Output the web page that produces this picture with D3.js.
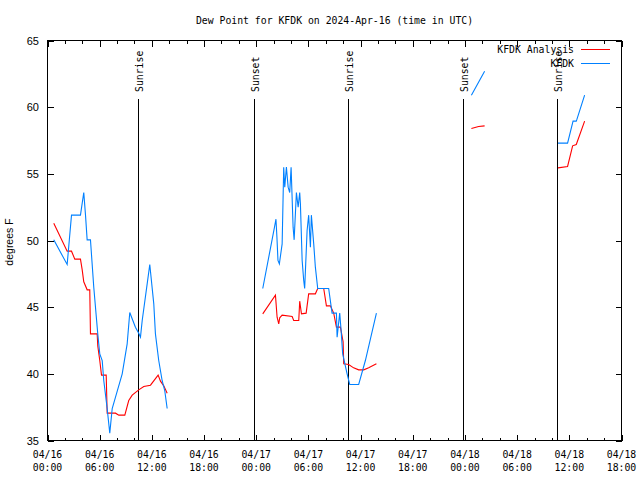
<!DOCTYPE html>
<html><head><meta charset="utf-8">
<script src="https://cdn.jsdelivr.net/npm/d3@7"></script>
<style>body{margin:0;background:#fff;}</style>
</head><body>
<svg id="chart" width="640" height="480"></svg>
<script>
// ---------- data ----------
const chartTitle = "Dew Point for KFDK on 2024-Apr-16 (time in UTC)";
const yAxisLabel = "degrees F";
const seriesNames = ["KFDK Analysis", "KFDK"];
// hours since 2024-04-16 00:00 UTC
const xDomainHours = [0, 66];
const yDomain = [35, 65];
const yTickValues = [35, 40, 45, 50, 55, 60, 65];
const xMajorTickHours = [0, 6, 12, 18, 24, 30, 36, 42, 48, 54, 60, 66];
const xTickDates = ["04/16","04/16","04/16","04/16","04/17","04/17","04/17","04/17","04/18","04/18","04/18","04/18"];
const xTickTimes = ["00:00","06:00","12:00","18:00","00:00","06:00","12:00","18:00","00:00","06:00","12:00","18:00"];
const sunHours = [10.46, 23.69, 34.5, 47.73, 58.55];
const sunLabels = ["Sunrise", "Sunset", "Sunrise", "Sunset", "Sunrise"];

// KFDK Analysis (red); null = gap
const analysisHours = [
  0.72,2.26,2.76,3.14,3.79,3.99,4.17,4.56,4.86,4.94,5.71,5.78,6.01,6.21,6.75,6.86,7.82,8.2,8.89,9.34,9.74,10.49,11.07,11.84,12.72,12.99,13.37,13.76,
  null,
  24.75,26.21,26.4,26.59,26.7,26.98,28.13,28.31,28.89,29.0,29.2,29.74,30.03,30.8,31.07,31.76,32.07,32.53,32.91,33.22,33.68,33.99,34.06,34.63,35.2,35.78,36.36,36.93,37.82,
  null,
  48.74,49.57,50.26,
  null,
  58.7,59.8,60.38,60.8,61.76
];
const analysisValues = [
  51.3,49.2,49.2,48.6,48.6,47.8,46.9,46.3,46.3,43.0,43.0,42.1,41.0,39.9,39.9,37.05,37.05,36.9,36.9,38.0,38.4,38.8,39.05,39.15,39.9,39.45,39.1,38.55,
  null,
  44.5,45.9,44.25,43.75,44.2,44.4,44.3,44.0,44.0,45.45,44.5,44.55,46.0,46.0,46.4,46.4,45.1,45.1,44.55,43.5,43.5,42.4,40.75,40.7,40.45,40.3,40.3,40.45,40.75,
  null,
  58.4,58.55,58.6,
  null,
  55.45,55.55,57.1,57.2,58.95
];

// KFDK observations (blue)
const obsHours = [
  0.72,2.26,2.76,3.79,4.17,4.37,4.56,4.94,5.32,5.78,6.01,6.29,6.47,6.86,7.16,7.44,7.82,8.59,9.16,9.46,10.11,10.49,10.69,10.89,11.46,11.76,12.22,12.41,12.79,13.18,13.48,13.76,
  null,
  24.75,26.1,26.27,26.38,26.5,26.66,26.98,27.16,27.28,27.47,27.67,27.85,28.01,28.24,28.36,28.62,28.82,29.0,29.08,29.28,29.46,29.57,29.69,29.85,30.03,30.23,30.34,30.61,30.8,31.07,32.33,32.72,33.22,33.3,33.6,33.76,33.94,34.45,34.75,35.78,36.55,37.82,
  null,
  48.74,50.26,
  null,
  58.7,59.8,60.43,60.8,60.88,61.76
];
const obsValues = [
  50.05,48.2,51.9,51.9,53.6,51.9,50.05,50.05,46.5,43.0,41.5,41.0,39.5,37.4,35.55,37.4,38.25,40.0,42.25,44.6,43.5,43.05,42.75,44.0,46.75,48.2,45.25,43.0,41.0,39.5,38.75,37.4,
  null,
  46.4,51.0,51.6,50.25,48.5,48.25,49.75,55.5,54.0,55.5,54.0,53.6,55.5,51.0,50.05,53.6,52.5,53.6,52.75,48.5,47.0,46.4,48.25,50.75,51.9,49.5,51.9,49.75,48.0,46.4,46.4,44.55,44.55,42.75,44.55,43.25,41.5,40.0,39.2,39.2,41.0,44.55,
  null,
  60.9,62.7,
  null,
  57.3,57.3,58.95,58.95,59.1,60.9
];

// ---------- layout / style ----------
const seriesColors = ["#ff0000", "#0080ff"];
const L = 47.5, R = 621.5, T = 40.5, B = 440.5;
const monoFont = "'DejaVu Sans Mono', 'Liberation Mono', monospace";
const sansFont = "'Liberation Sans', Arial, sans-serif";

const svg = d3.select("#chart");
svg.append("rect").attr("width", 640).attr("height", 480).attr("fill", "#fff");

const x = d3.scaleLinear().domain(xDomainHours).range([L, R]);
const y = d3.scaleLinear().domain(yDomain).range([B, T]);

// title
svg.append("text").attr("x", (L + R) / 2).attr("y", 24)
  .attr("text-anchor", "middle").attr("font-family", monoFont).attr("font-size", "9.8px")
  .attr("fill", "#000").text(chartTitle);

// y axis label
svg.append("text").attr("transform", "translate(13,242) rotate(-90)")
  .attr("text-anchor", "middle").attr("font-family", sansFont).attr("font-size", "10.5px")
  .attr("fill", "#000").text(yAxisLabel);

const g = svg.append("g").attr("shape-rendering", "crispEdges");

// x ticks every 2 hours, major every 6 hours
const minorHours = d3.range(xDomainHours[0], xDomainHours[1] + 0.001, 2);
minorHours.forEach(h => {
  const len = (h % 6 === 0) ? 6 : 3;
  const px = Math.round(x(h)) + 0.5;
  g.append("line").attr("x1", px).attr("x2", px).attr("y1", B).attr("y2", B - len).attr("stroke", "#000");
  g.append("line").attr("x1", px).attr("x2", px).attr("y1", T).attr("y2", T + len).attr("stroke", "#000");
});

// x tick labels
xMajorTickHours.forEach((h, i) => {
  const t = svg.append("text").attr("x", x(h)).attr("text-anchor", "middle")
    .attr("font-family", monoFont).attr("font-size", "9.8px").attr("fill", "#000");
  t.append("tspan").attr("x", x(h)).attr("y", 458).text(xTickDates[i]);
  t.append("tspan").attr("x", x(h)).attr("y", 471).text(xTickTimes[i]);
});

// y ticks + labels
yTickValues.forEach(v => {
  const py = Math.round(y(v)) + 0.5;
  g.append("line").attr("x1", L).attr("x2", L + 6).attr("y1", py).attr("y2", py).attr("stroke", "#000");
  g.append("line").attr("x1", R).attr("x2", R - 6).attr("y1", py).attr("y2", py).attr("stroke", "#000");
  svg.append("text").attr("x", 39).attr("y", y(v) + 4).attr("text-anchor", "end")
    .attr("font-family", sansFont).attr("font-size", "11px").attr("fill", "#000").text(v);
});

// sunrise/sunset lines
sunHours.forEach((h, i) => {
  const px = Math.round(x(h)) + 0.5;
  g.append("line").attr("x1", px).attr("x2", px).attr("y1", 99).attr("y2", B)
    .attr("stroke", "#000").attr("stroke-width", 1);
  svg.append("text").attr("transform", `translate(${px + 4},92) rotate(-90)`)
    .attr("text-anchor", "start").attr("font-family", monoFont).attr("font-size", "9.8px")
    .attr("fill", "#000").text(sunLabels[i]);
});

// frame
g.append("rect").attr("x", L).attr("y", T).attr("width", R - L).attr("height", B - T)
  .attr("fill", "none").attr("stroke", "#000");

// series
const line = d3.line().defined(d => d.v != null).x(d => x(d.h)).y(d => y(d.v));
const allSeries = [
  analysisHours.map((h, i) => ({h, v: analysisValues[i]})),
  obsHours.map((h, i) => ({h, v: obsValues[i]}))
];
allSeries.forEach((data, i) => {
  svg.append("path").datum(data).attr("d", line).attr("fill", "none")
    .attr("stroke", seriesColors[i]).attr("stroke-width", 1.1)
    .attr("stroke-linejoin", "miter");
});

// legend
seriesNames.forEach((name, i) => {
  const ly = 49 + i * 13.5;
  svg.append("text").attr("x", 574).attr("y", ly + 4).attr("text-anchor", "end")
    .attr("font-family", monoFont).attr("font-size", "9.8px").attr("fill", "#000").text(name);
  svg.append("line").attr("x1", 581).attr("x2", 610).attr("y1", Math.round(ly) + 0.5).attr("y2", Math.round(ly) + 0.5)
    .attr("stroke", seriesColors[i]).attr("shape-rendering", "crispEdges");
});
</script>
</body></html>
